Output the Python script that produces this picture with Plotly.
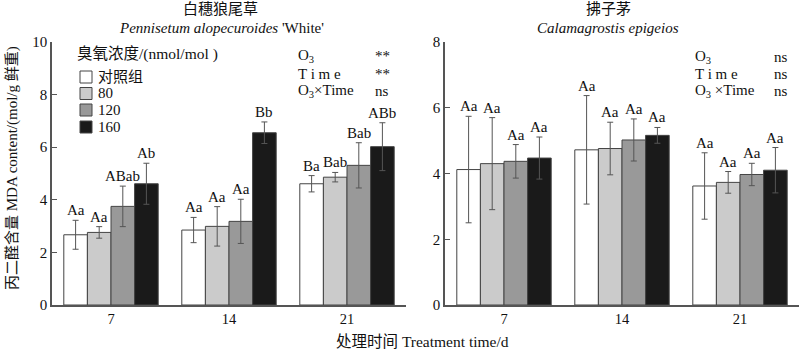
import plotly.graph_objects as go

days = ["7", "14", "21"]
groups = ["对照组", "80", "120", "160"]
colors = ["#ffffff", "#cbcbcb", "#999999", "#1a1a1a"]

# Pennisetum alopecuroides 'White'
p_vals = [[2.67, 2.85, 4.61], [2.76, 2.99, 4.86], [3.75, 3.18, 5.31], [4.61, 6.55, 6.02]]
p_err = [[0.55, 0.48, 0.31], [0.22, 0.75, 0.18], [0.77, 0.84, 0.86], [0.78, 0.41, 0.91]]
p_lab = [["Aa", "Aa", "Ba"], ["Aa", "Aa", "Bab"], ["ABab", "Aa", "Bab"], ["Ab", "Bb", "ABb"]]

# Calamagrostis epigeios
c_vals = [[4.12, 4.72, 3.62], [4.30, 4.76, 3.73], [4.37, 5.02, 3.97], [4.47, 5.16, 4.10]]
c_err = [[1.62, 1.65, 1.01], [1.40, 0.80, 0.33], [0.51, 0.64, 0.34], [0.64, 0.24, 0.69]]
c_lab = [["Aa", "Aa", "Aa"], ["Aa", "Aa", "Aa"], ["Aa", "Aa", "Aa"], ["Aa", "Aa", "Aa"]]

p_stats = [("O<sub>3</sub>", "**"), ("T i m e", "**"), ("O<sub>3</sub>×Time", "ns")]
c_stats = [("O<sub>3</sub>", "ns"), ("T i m e", "ns"), ("O<sub>3</sub> ×Time", "ns")]

FONT = "Liberation Serif, Times New Roman, Noto Sans CJK SC, serif"
W, H = 800, 351
ML, MR, MT, MB = 52, 1, 42, 46
PW, PH = W - ML - MR, H - MT - MB


def px(x):
    return (x - ML) / PW


def py(y):
    return (H - MB - y) / PH


fig = go.Figure()
xs = list(range(len(days)))
offsets = [-0.3, -0.1, 0.1, 0.3]

for panel, (vals, errs, labs, xa, ya) in enumerate([
    (p_vals, p_err, p_lab, "x", "y"),
    (c_vals, c_err, c_lab, "x2", "y2"),
]):
    for g in range(len(groups)):
        fig.add_trace(go.Bar(
            x=xs, y=vals[g], xaxis=xa, yaxis=ya, name=groups[g],
            marker=dict(color=colors[g], line=dict(color="#444444", width=1)),
            error_y=dict(type="data", array=errs[g], color="#555555", thickness=1, width=3),
            showlegend=False,
        ))
        for i in range(len(days)):
            fig.add_annotation(
                x=xs[i] + offsets[g], y=vals[g][i] + errs[g][i], xref=xa, yref=ya,
                text=labs[g][i], showarrow=False, yanchor="bottom", yshift=0,
                font=dict(family=FONT, size=15, color="#111111"),
            )

axis_common = dict(showline=True, linecolor="#555555", linewidth=1.5, showgrid=False,
                   zeroline=False)
yfont = dict(family=FONT, size=15, color="#111111")
xfont = dict(family=FONT, size=14.5, color="#111111")
fig.update_layout(
    width=W, height=H, margin=dict(l=ML, r=MR, t=MT, b=MB),
    paper_bgcolor="white", plot_bgcolor="white",
    barmode="group", bargap=0.2, bargroupgap=0,
    xaxis=dict(domain=[0, px(406)], range=[-0.5, 2.5], tickvals=xs, ticktext=days,
               ticks="", anchor="y", tickfont=xfont, **axis_common),
    yaxis=dict(range=[0, 10], tickvals=[0, 2, 4, 6, 8, 10], ticks="inside", ticklen=5,
               tickcolor="#555555", anchor="x", tickfont=yfont, **axis_common),
    xaxis2=dict(domain=[px(445), 1], range=[-0.5, 2.5], tickvals=xs, ticktext=days,
                ticks="", anchor="y2", tickfont=xfont, **axis_common),
    yaxis2=dict(range=[0, 8], tickvals=[0, 2, 4, 6, 8], ticks="inside", ticklen=5,
                tickcolor="#555555", anchor="x2", tickfont=yfont, **axis_common),
    font=dict(family=FONT, size=15, color="#111111"),
)


def txt(x, y, text, size=15, xanchor="left", angle=0):
    fig.add_annotation(x=px(x), y=py(y), xref="paper", yref="paper", text=text,
                       showarrow=False, xanchor=xanchor, yanchor="middle", textangle=angle,
                       font=dict(family=FONT, size=size, color="#111111"))


# titles
txt(220, 9, "白穗狼尾草", 15, "center")
txt(221, 28, "<i>Pennisetum alopecuroides</i> 'White'", 15, "center")
txt(608, 9, "拂子茅", 15, "center")
txt(608, 28, "<i>Calamagrostis epigeios</i>", 15, "center")

# axis titles
txt(12, 168, "丙二醛含量 MDA content/(mol/g 鲜重)", 15, "center", angle=-90)
txt(422, 341, "处理时间 Treatment time/d", 15.5, "center")

# stats
for k, (name, sig) in enumerate(p_stats):
    txt(296, 56 + 17.5 * k, name, 15)
    txt(373, 56 + 17.5 * k, sig, 15)
for k, (name, sig) in enumerate(c_stats):
    txt(693, 57 + 17 * k, name, 15)
    txt(772, 57 + 17 * k, sig, 15)

# legend
txt(75, 54, "臭氧浓度/(nmol/mol )", 15.5)
rows = [77, 93.5, 110, 127]
for g in range(len(groups)):
    y = rows[g]
    fig.add_shape(type="rect", xref="paper", yref="paper",
                  x0=px(80), x1=px(92), y0=py(y + 6), y1=py(y - 6),
                  fillcolor=colors[g], line=dict(color="#444444", width=1))
    txt(96, y, groups[g], 15)

fig.write_html("out.html")
